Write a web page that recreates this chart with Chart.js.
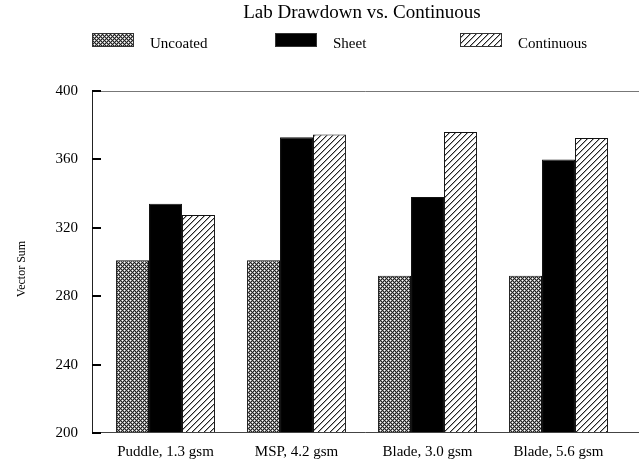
<!DOCTYPE html>
<html><head><meta charset="utf-8">
<script src="https://cdn.jsdelivr.net/npm/chart.js@4.4.0/dist/chart.umd.min.js"></script>
<style>html,body{margin:0;padding:0;background:#fff}#wrap{width:639px;height:460px}</style>
</head><body><div id="wrap"><canvas id="c" width="639" height="460"></canvas></div>
<script>
const categories = ["Puddle, 1.3 gsm", "MSP, 4.2 gsm", "Blade, 3.0 gsm", "Blade, 5.6 gsm"];
const seriesNames = ["Uncoated", "Sheet", "Continuous"];
const uncoated = [301, 301, 292, 292];
const sheet = [334, 373, 338, 360];
const continuous = [327.5, 374.5, 376, 372.5];
const yTicks = [200, 240, 280, 320, 360, 400];
const chartTitle = "Lab Drawdown vs. Continuous";
const yTitle = "Vector Sum";

const FONT = "'Liberation Serif', 'DejaVu Serif', serif";

function crossPattern() {
  const c = document.createElement('canvas'); c.width = 4; c.height = 4;
  const x = c.getContext('2d');
  x.fillStyle = '#fff'; x.fillRect(0, 0, 4, 4);
  for (let i = 0; i < 4; i++) for (let j = 0; j < 4; j++) {
    if ((i + j) % 4 === 0 || ((i - j) + 4) % 4 === 0) { x.fillStyle = '#222'; x.fillRect(i, j, 1, 1); }
    else if ((i + j) % 2 === 1) { x.fillStyle = '#999'; x.fillRect(i, j, 1, 1); }
  }
  return x.createPattern(c, 'repeat');
}
function diagPattern() {
  const n = 6;
  const c = document.createElement('canvas'); c.width = n; c.height = n;
  const x = c.getContext('2d');
  x.fillStyle = '#fff'; x.fillRect(0, 0, n, n);
  for (let i = 0; i < n; i++) for (let j = 0; j < n; j++) {
    if ((i + j) % n === n - 1) { x.fillStyle = '#222'; x.fillRect(i, j, 1, 1); }
    else if ((i + j) % n === 0) { x.fillStyle = '#aaa'; x.fillRect(i, j, 1, 1); }
  }
  return x.createPattern(c, 'repeat');
}

const ctx = document.getElementById('c').getContext('2d');
const fills = [crossPattern(), '#000', diagPattern()];
const seriesData = [uncoated, sheet, continuous];

const framePlugin = {
  id: 'frame',
  afterDatasetsDraw(chart) {
    const { ctx, chartArea: a } = chart;
    const lx = Math.round(a.left - 8) + 0.5;
    ctx.save();
    ctx.lineWidth = 1;
    ctx.strokeStyle = '#777';
    ctx.beginPath(); ctx.moveTo(lx, Math.round(a.top) + 0.5); ctx.lineTo(chart.width, Math.round(a.top) + 0.5); ctx.stroke();
    ctx.strokeStyle = '#444';
    ctx.beginPath(); ctx.moveTo(lx, Math.round(a.bottom) - 0.5); ctx.lineTo(chart.width, Math.round(a.bottom) - 0.5); ctx.stroke();
    ctx.strokeStyle = '#222';
    ctx.beginPath(); ctx.moveTo(lx, Math.round(a.top)); ctx.lineTo(lx, Math.round(a.bottom)); ctx.stroke();
    ctx.restore();
  },
  afterDraw(chart) {
    const { ctx, chartArea: a } = chart;
    const ys = chart.scales.y;
    ctx.save();
    ctx.fillStyle = '#000';
    const tx = Math.round(a.left - 8);
    yTicks.forEach(v => {
      const py = Math.round(ys.getPixelForValue(v));
      ctx.fillRect(tx, py - 1, 9, 2);
    });
    ctx.fillStyle = '#000';
    ctx.font = "19px " + FONT;
    ctx.textAlign = 'center'; ctx.textBaseline = 'middle';
    ctx.fillText(chartTitle, (a.left + a.right) / 2, 13);
    ctx.save();
    ctx.translate(22, (a.top + a.bottom) / 2 + 7);
    ctx.rotate(-Math.PI / 2);
    ctx.font = "12px " + FONT;
    ctx.fillText(yTitle, 0, 0);
    ctx.restore();
    const boxX = [92, 275, 460];
    ctx.font = "15px " + FONT;
    ctx.textAlign = 'left';
    chart.data.datasets.forEach((ds, i) => {
      const bx = boxX[i];
      ctx.fillStyle = ds.backgroundColor;
      ctx.fillRect(bx, 33, 42, 14);
      ctx.strokeStyle = '#333'; ctx.lineWidth = 1;
      ctx.strokeRect(bx + 0.5, 33.5, 41, 13);
      ctx.fillStyle = '#000';
      ctx.fillText(ds.label, bx + 58, 44);
    });
    ctx.restore();
  }
};

new Chart(ctx, {
  type: 'bar',
  data: {
    labels: categories,
    datasets: seriesNames.map((name, i) => ({
      label: name,
      data: seriesData[i],
      backgroundColor: fills[i],
      borderColor: '#111',
      borderWidth: 1,
      categoryPercentage: 0.755,
      barPercentage: 1
    }))
  },
  options: {
    responsive: false,
    animation: false,
    devicePixelRatio: 1,
    layout: { padding: { top: 91, right: 15, left: 0, bottom: 0 } },
    plugins: { legend: { display: false }, title: { display: false }, tooltip: { enabled: false } },
    scales: {
      x: {
        grid: { display: false },
        border: { display: false },
        ticks: { color: '#000', font: { family: FONT, size: 15 }, padding: 2, maxRotation: 0, autoSkip: false },
        afterFit(s) { s.height = 27; }
      },
      y: {
        min: 200, max: 400,
        afterBuildTicks(s) { s.ticks = yTicks.map(v => ({ value: v })); },
        grid: { drawOnChartArea: false, drawTicks: true, tickLength: 8, color: 'rgba(0,0,0,0)' },
        border: { display: false },
        ticks: { color: '#000', font: { family: FONT, size: 15 }, padding: 14 },
        afterFit(s) { s.width = 100; }
      }
    }
  },
  plugins: [framePlugin]
});
</script>
</body></html>
